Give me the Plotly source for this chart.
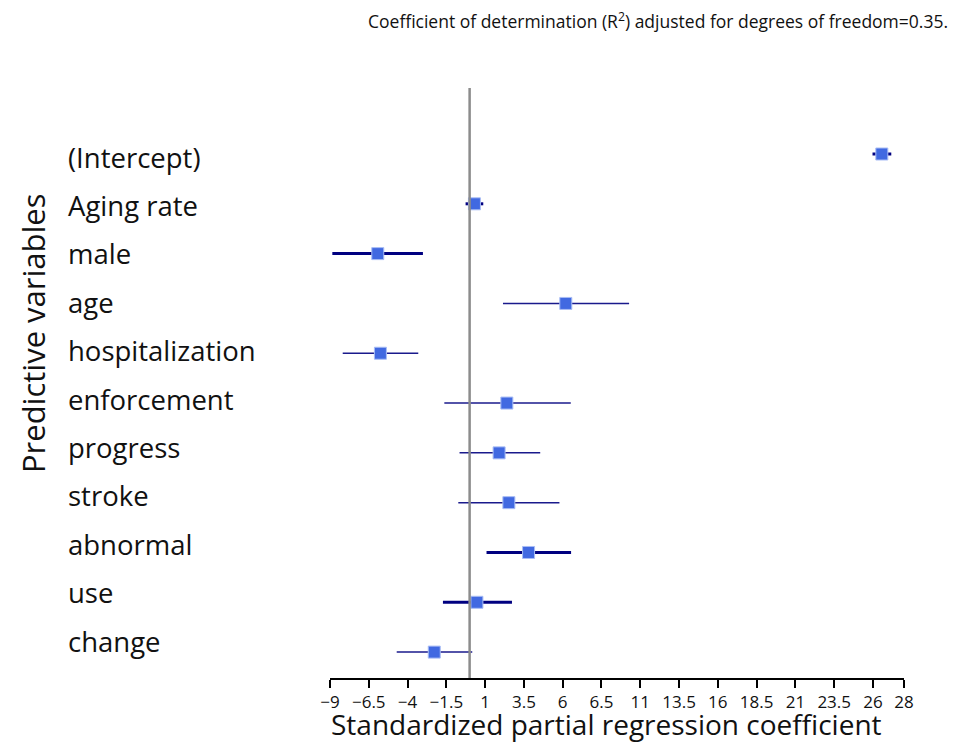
import plotly.graph_objects as go

variables = ["(Intercept)", "Aging rate", "male", "age", "hospitalization",
             "enforcement", "progress", "stroke", "abnormal", "use", "change"]
estimates = [26.57, 0.31, -5.92, 6.2, -5.75, 2.4, 1.9, 2.53, 3.8, 0.47, -2.28]
ci_low = [25.97, -0.26, -8.85, 2.15, -8.18, -1.63, -0.65, -0.73, 1.09, -1.72, -4.70]
ci_high = [27.18, 0.88, -3.01, 10.28, -3.31, 6.52, 4.55, 5.79, 6.54, 2.73, 0.17]
significant = [True, True, True, False, False, False, False, False, True, True, False]

tick_values = [-9, -6.5, -4, -1.5, 1, 3.5, 6, 8.5, 11, 13.5, 16, 18.5, 21, 23.5, 26, 28]
tick_labels = ["\u22129", "\u22126.5", "\u22124", "\u22121.5", "1", "3.5", "6", "6.5",
               "11", "13.5", "16", "18.5", "21", "23.5", "26", "28"]

FONT = "Open Sans"
fig = go.Figure()

for i, (name, est, lo, hi, sig) in enumerate(zip(variables, estimates, ci_low, ci_high, significant)):
    fig.add_trace(go.Scatter(
        x=[est], y=[i], mode="markers", name=name, showlegend=False,
        marker=dict(symbol="square", size=12, color="#4169E1",
                    line=dict(color="#A9BDF5", width=1)),
        error_x=dict(type="data", symmetric=False, array=[hi - est], arrayminus=[est - lo],
                     color="#000080" if sig else "#1a1a8c", thickness=3 if sig else 1.5, width=0),
    ))

# reference line at zero (drawn over the interval lines, as in the original)
fig.add_shape(type="line", xref="x", yref="paper", x0=0, x1=0, y0=0, y1=1,
              line=dict(color="#8c8c8c", width=2.5), layer="above")

# row labels (left aligned)
for i, name in enumerate(variables):
    fig.add_annotation(x=-0.46, xref="paper", y=i, yref="y", text=name,
                       xanchor="left", yanchor="middle", showarrow=False,
                       yshift=1.4 * i - 3,
                       font=dict(family=FONT, size=27.5, color="#111111"))

# y-axis title
fig.add_annotation(x=-0.517, xref="paper", y=0.585, yref="paper", text="Predictive variables",
                   textangle=-90, xanchor="center", yanchor="middle", showarrow=False,
                   font=dict(family=FONT, size=31, color="#111111"))

# x-axis title
fig.add_annotation(x=0.0, xref="paper", y=-0.1115, yref="paper",
                   text="Standardized partial regression coefficient",
                   xanchor="left", yanchor="bottom", showarrow=False, borderpad=0,
                   font=dict(family=FONT, size=28, color="#111111"))

# top caption
fig.add_annotation(x=1.08, xref="paper", y=1.115, yref="paper",
                   text="Coefficient of determination (R<sup>2</sup>) adjusted for degrees of freedom=0.35.",
                   xanchor="right", yanchor="middle", showarrow=False,
                   font=dict(family=FONT, size=17.5, color="#111111"))

fig.update_layout(
    width=966, height=744,
    margin=dict(l=330, r=62, t=88, b=66),
    plot_bgcolor="white", paper_bgcolor="white",
    font=dict(family=FONT, color="#111111"),
    xaxis=dict(range=[-9, 28], tickmode="array", tickvals=tick_values, ticktext=tick_labels,
               showgrid=False, zeroline=False, showline=True, linecolor="black", linewidth=2,
               ticks="outside", ticklen=8, tickwidth=1.5, tickcolor="black",
               tickfont=dict(family=FONT, size=17, color="#111111")),
    yaxis=dict(range=[10.52, -1.325], showgrid=False, zeroline=False, showline=False,
               showticklabels=False, ticks=""),
)

fig.write_html("out.html", config={"displayModeBar": False},
               post_script="document.body.style.margin='0';document.body.style.overflow='hidden';")
